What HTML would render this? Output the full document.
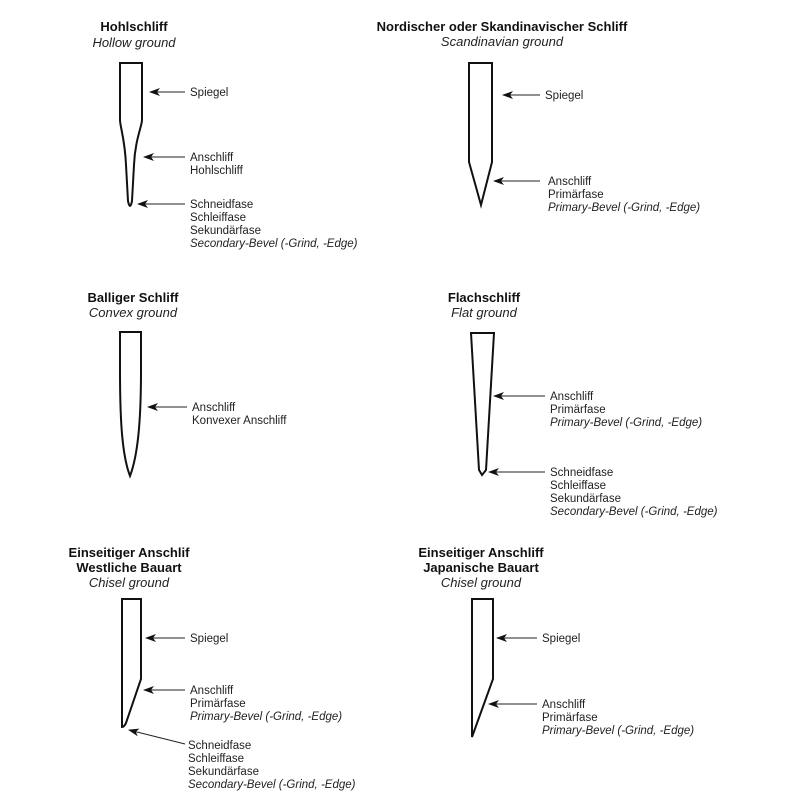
<!DOCTYPE html>
<html><head><meta charset="utf-8"><style>
html,body{margin:0;padding:0;background:#fff}
svg{display:block}
text{font-family:"Liberation Sans",Arial,sans-serif;font-size:11.5px;fill:#222}
.t{font-size:13px;font-weight:bold;text-anchor:middle;fill:#111}
.s{font-size:13px;font-style:italic;text-anchor:middle}
.i{font-style:italic}
.b{fill:none;stroke:#111;stroke-width:2}
.a{stroke:#222;stroke-width:1}
</style></head><body>
<svg width="800" height="800" viewBox="0 0 800 800">
<defs><marker id="m" markerWidth="11" markerHeight="8" refX="10" refY="4" orient="auto" markerUnits="userSpaceOnUse"><path d="M0,0 L11,4 L0,8 L3,4 Z" fill="#111"/></marker></defs>

<!-- Hohlschliff -->
<text class="t" x="134" y="31">Hohlschliff</text>
<text class="s" x="134" y="47">Hollow ground</text>
<path class="b" d="M120,63 H142 V120 C142,126 135,140 134,165 L132,201 Q131,206 130,206 Q129,206 128,201 L126,165 C125,140 120,126 120,120 Z"/>
<line class="a" x1="185" y1="92" x2="150" y2="92" marker-end="url(#m)"/>
<text x="190" y="96">Spiegel</text>
<line class="a" x1="185" y1="157" x2="144" y2="157" marker-end="url(#m)"/>
<text x="190" y="161">Anschliff</text><text x="190" y="174">Hohlschliff</text>
<line class="a" x1="185" y1="204" x2="138" y2="204" marker-end="url(#m)"/>
<text x="190" y="208">Schneidfase</text><text x="190" y="221">Schleiffase</text><text x="190" y="234">Sekundärfase</text><text class="i" x="190" y="247">Secondary-Bevel (-Grind, -Edge)</text>

<!-- Nordic -->
<text class="t" x="502" y="31">Nordischer oder Skandinavischer Schliff</text>
<text class="s" x="502" y="46">Scandinavian ground</text>
<path class="b" d="M469,63 H492 V162 L481,205 L469,162 Z"/>
<line class="a" x1="540" y1="95" x2="503" y2="95" marker-end="url(#m)"/>
<text x="545" y="99">Spiegel</text>
<line class="a" x1="540" y1="181" x2="494" y2="181" marker-end="url(#m)"/>
<text x="548" y="185">Anschliff</text><text x="548" y="198">Primärfase</text><text class="i" x="548" y="211">Primary-Bevel (-Grind, -Edge)</text>

<!-- Convex -->
<text class="t" x="133" y="302">Balliger Schliff</text>
<text class="s" x="133" y="317">Convex ground</text>
<path class="b" d="M120,332 H141 V370 C141,420 138,455 130,476 C122,455 120,420 120,370 Z"/>
<line class="a" x1="187" y1="407" x2="148" y2="407" marker-end="url(#m)"/>
<text x="192" y="411">Anschliff</text><text x="192" y="424">Konvexer Anschliff</text>

<!-- Flat -->
<text class="t" x="484" y="302">Flachschliff</text>
<text class="s" x="484" y="317">Flat ground</text>
<path class="b" d="M471,333 H494 L486,470 L482,475 L479,470 Z"/>
<line class="a" x1="545" y1="396" x2="494" y2="396" marker-end="url(#m)"/>
<text x="550" y="400">Anschliff</text><text x="550" y="413">Primärfase</text><text class="i" x="550" y="426">Primary-Bevel (-Grind, -Edge)</text>
<line class="a" x1="545" y1="472" x2="489" y2="472" marker-end="url(#m)"/>
<text x="550" y="476">Schneidfase</text><text x="550" y="489">Schleiffase</text><text x="550" y="502">Sekundärfase</text><text class="i" x="550" y="515">Secondary-Bevel (-Grind, -Edge)</text>

<!-- Western chisel -->
<text class="t" x="129" y="557">Einseitiger Anschlif</text>
<text class="t" x="129" y="572">Westliche Bauart</text>
<text class="s" x="129" y="587">Chisel ground</text>
<path class="b" d="M122,599 H141 V679 L126,723 Q124,727 122,727 Z"/>
<line class="a" x1="185" y1="638" x2="146" y2="638" marker-end="url(#m)"/>
<text x="190" y="642">Spiegel</text>
<line class="a" x1="185" y1="690" x2="144" y2="690" marker-end="url(#m)"/>
<text x="190" y="694">Anschliff</text><text x="190" y="707">Primärfase</text><text class="i" x="190" y="720">Primary-Bevel (-Grind, -Edge)</text>
<line class="a" x1="185" y1="744" x2="129" y2="730" marker-end="url(#m)"/>
<text x="188" y="749">Schneidfase</text><text x="188" y="762">Schleiffase</text><text x="188" y="775">Sekundärfase</text><text class="i" x="188" y="788">Secondary-Bevel (-Grind, -Edge)</text>

<!-- Japanese chisel -->
<text class="t" x="481" y="557">Einseitiger Anschliff</text>
<text class="t" x="481" y="572">Japanische Bauart</text>
<text class="s" x="481" y="587">Chisel ground</text>
<path class="b" d="M472,599 H493 V679 L472,737 Z"/>
<line class="a" x1="537" y1="638" x2="497" y2="638" marker-end="url(#m)"/>
<text x="542" y="642">Spiegel</text>
<line class="a" x1="537" y1="704" x2="489" y2="704" marker-end="url(#m)"/>
<text x="542" y="708">Anschliff</text><text x="542" y="721">Primärfase</text><text class="i" x="542" y="734">Primary-Bevel (-Grind, -Edge)</text>
</svg>
</body></html>
